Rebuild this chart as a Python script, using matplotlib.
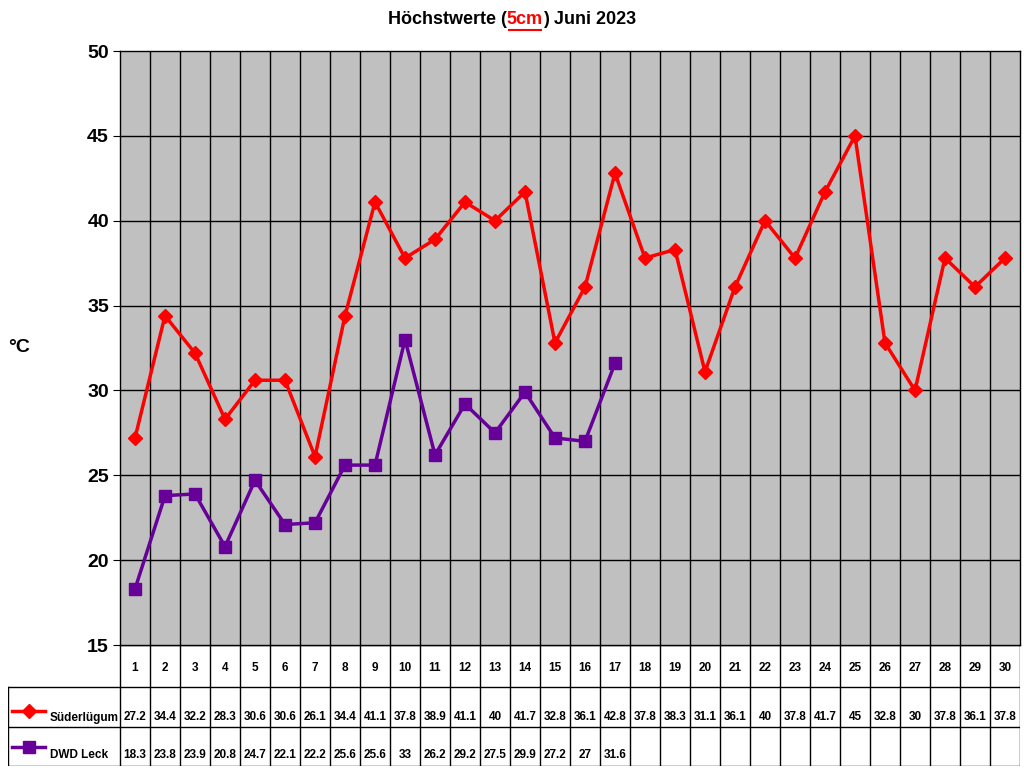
import matplotlib.pyplot as plt
from matplotlib.lines import Line2D

plt.rcParams['font.family'] = ['Liberation Sans', 'DejaVu Sans']
plt.rcParams['font.weight'] = 'bold'

days = list(range(1, 31))
suederluegum = [27.2, 34.4, 32.2, 28.3, 30.6, 30.6, 26.1, 34.4, 41.1, 37.8,
                38.9, 41.1, 40, 41.7, 32.8, 36.1, 42.8, 37.8, 38.3, 31.1,
                36.1, 40, 37.8, 41.7, 45, 32.8, 30, 37.8, 36.1, 37.8]
dwd_leck = [18.3, 23.8, 23.9, 20.8, 24.7, 22.1, 22.2, 25.6, 25.6, 33,
            26.2, 29.2, 27.5, 29.9, 27.2, 27, 31.6]
series_names = ['Süderlügum', 'DWD Leck']
red = '#FF0000'
purple = '#660099'

W, H = 1024, 768
fig = plt.figure(figsize=(W / 100, H / 100), dpi=100)

# main plot area (pixels: x 120..1020, y 51..645)
ax = fig.add_axes([120 / W, (H - 645) / H, 900 / W, 594 / H])
ax.set_facecolor('#C0C0C0')
ax.set_xlim(0.5, 30.5)
ax.set_ylim(15, 50)
ax.set_yticks(range(15, 51, 5))
ax.set_xticks([])
ax.tick_params(axis='y', labelsize=14, length=5, direction='out', pad=3)
for lab in ax.get_yticklabels():
    lab.set_fontweight('bold')
for y in range(20, 50, 5):
    ax.axhline(y, color='black', lw=1)
for x in range(1, 30):
    ax.axvline(x + 0.5, color='black', lw=1)
for s in ax.spines.values():
    s.set_color('black')
    s.set_linewidth(1)

ax.plot(days, suederluegum, color=red, lw=2.5, marker='D', ms=7, zorder=5)
ax.plot(days[:len(dwd_leck)], dwd_leck, color=purple, lw=2.5, marker='s', ms=9, zorder=5)

fig.text(8 / W, 1 - 347 / H, '°C', fontsize=14, fontweight='bold', va='center', ha='left')

# data table below (pixels: x 8..1020, y 645..766)
tx0 = 0.5 - 112 / 30
tab = fig.add_axes([8 / W, (H - 766) / H, 1012 / W, 121 / H])
tab.set_xlim(tx0, 30.5)
tab.set_ylim(766, 645)
tab.axis('off')
row_y = [645, 687, 727, 766]
tab.plot([0.5, 30.5], [645, 645], color='black', lw=1)
for yy in row_y[1:]:
    tab.plot([tx0, 30.5], [yy, yy], color='black', lw=1)
for x in range(0, 31):
    tab.plot([x + 0.5, x + 0.5], [645, 766], color='black', lw=1)
tab.plot([tx0, tx0], [687, 766], color='black', lw=1)

for d in days:
    tab.text(d, 668, str(d), ha='center', va='center', fontsize=8.5, fontweight='bold')

def fmt(v):
    return ('%g' % v)

for d, v in zip(days, suederluegum):
    tab.text(d, 717, fmt(v), ha='center', va='center', fontsize=8.5, fontweight='bold')
for d, v in zip(days, dwd_leck):
    tab.text(d, 755, fmt(v), ha='center', va='center', fontsize=8.5, fontweight='bold')

lx = 0.5 - 108 / 30
lx2 = 0.5 - 75 / 30
tab.plot([lx, lx2], [711, 711], color=red, lw=2.5)
tab.plot([(lx + lx2) / 2], [711], color=red, marker='D', ms=7)
tab.plot([lx, lx2], [747, 747], color=purple, lw=2.5)
tab.plot([(lx + lx2) / 2], [747], color=purple, marker='s', ms=9)
tab.text(0.5 - 70 / 30, 718, series_names[0], ha='left', va='center', fontsize=8.5, fontweight='bold')
tab.text(0.5 - 70 / 30, 755, series_names[1], ha='left', va='center', fontsize=8.5, fontweight='bold')

# title with red underlined part
parts = [('Höchstwerte (', 'black'), ('5cm', red), (') Juni 2023', 'black')]
fig.canvas.draw()
renderer = fig.canvas.get_renderer()
texts = []
widths = []
for s, c in parts:
    t = fig.text(0, 1 - 20 / H, s, color=c, fontsize=13, fontweight='bold', va='center', ha='left')
    texts.append(t)
    widths.append(t.get_window_extent(renderer).width)
total = sum(widths)
xpos = 512 - total / 2
for t, w in zip(texts, widths):
    t.set_x(xpos / W)
    xpos += w
x_u0 = (512 - total / 2 + widths[0] + 1) / W
x_u1 = x_u0 + (widths[1] - 2) / W
fig.add_artist(Line2D([x_u0, x_u1], [1 - 30 / H, 1 - 30 / H], color=red, lw=1.5,
                      solid_capstyle='butt'))

fig.savefig('out.png', dpi=100)
